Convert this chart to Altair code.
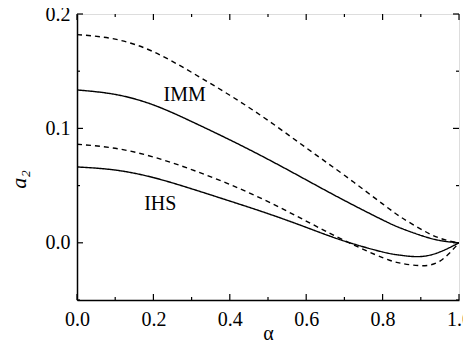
import altair as alt
import pandas as pd

alpha = [0.0, 0.1, 0.2, 0.3, 0.4, 0.5, 0.6, 0.7, 0.8, 0.85, 0.9, 0.95, 1.0]
imm_solid = [0.1336, 0.1297, 0.1205, 0.1060, 0.090, 0.073, 0.055, 0.037, 0.020, 0.0125, 0.0065, 0.002, 0.0]
imm_dashed = [0.182, 0.178, 0.167, 0.149, 0.129, 0.107, 0.083, 0.059, 0.034, 0.022, 0.012, 0.004, 0.0]
ihs_solid = [0.0663, 0.0636, 0.0570, 0.0472, 0.0365, 0.0255, 0.0135, 0.0015, -0.008, -0.011, -0.012, -0.008, 0.0]
ihs_dashed = [0.0862, 0.0826, 0.075, 0.064, 0.051, 0.036, 0.019, 0.002, -0.013, -0.018, -0.020, -0.016, 0.0]

label_text = ["IMM", "IHS"]
label_x = [0.282, 0.218]
label_y = [0.129, 0.034]

x_major = [0.0, 0.2, 0.4, 0.6, 0.8, 1.0]
x_minor = [0.1, 0.3, 0.5, 0.7, 0.9]
y_major = [0.0, 0.1, 0.2]
y_minor = [-0.05, 0.05, 0.15]

W, H = 382, 286
FONT = "Liberation Serif, Times New Roman, Times, serif"
MAJ, MIN = 6, 3

rows = []
for name, style, vals in [
    ("IMM solid", "solid", imm_solid),
    ("IMM dashed", "dashed", imm_dashed),
    ("IHS solid", "solid", ihs_solid),
    ("IHS dashed", "dashed", ihs_dashed),
]:
    for a, v in zip(alpha, vals):
        rows.append({"alpha": a, "a2": v, "series": name, "style": style})
df = pd.DataFrame(rows)
labels = pd.DataFrame({"text": label_text, "alpha": label_x, "a2": label_y})

xscale = alt.Scale(domain=[0, 1], nice=False, zero=False)
yscale = alt.Scale(domain=[-0.05, 0.2], nice=False, zero=False)

xaxis = alt.Axis(
    orient="bottom", values=x_major, format=".1f", ticks=False, tickSize=0,
    labelPadding=9, labelFont=FONT, labelFontSize=20, labelColor="black", labelFlush=False,
    domainColor="black", domainWidth=1.5, grid=False,
    title="α", titleFont=FONT, titleFontSize=20, titleFontWeight="normal",
    titleColor="black", titleY=23)
yaxis = alt.Axis(
    orient="left", values=y_major, format=".1f", ticks=False, tickSize=0,
    labelPadding=7, labelFont=FONT, labelFontSize=20, labelColor="black", labelFlush=False,
    domainColor="black", domainWidth=1.5, grid=False,
    title="a₂", titleFont=FONT, titleFontSize=22, titleFontStyle="italic",
    titleFontWeight="normal", titleColor="black", titleX=-47, titleY=165)

X = alt.X("alpha:Q", scale=xscale, axis=xaxis, title="α")
Y = alt.Y("a2:Q", scale=yscale, axis=yaxis, title="a₂")

lines = alt.Chart(df).mark_line(color="black", strokeWidth=1.4, clip=True, interpolate="natural").encode(
    x=X, y=Y,
    detail="series:N",
    strokeDash=alt.StrokeDash("style:N", scale=alt.Scale(domain=["solid", "dashed"], range=[[1, 0], [5, 4]]), legend=None),
)

text = alt.Chart(labels).mark_text(font=FONT, fontSize=20, color="black").encode(
    x=X, y=Y, text="text:N",
)


def xticks(vals, y0, y1):
    d = pd.DataFrame({"alpha": vals})
    return alt.Chart(d).mark_rule(color="black", strokeWidth=1.2).encode(
        x=X, y=alt.value(y0), y2=alt.value(y1),
    )


def yticks(vals, x0, x1):
    d = pd.DataFrame({"a2": vals})
    return alt.Chart(d).mark_rule(color="black", strokeWidth=1.2).encode(
        y=Y, x=alt.value(x0), x2=alt.value(x1),
    )


ticks = [
    xticks(x_major, H, H - MAJ), xticks(x_minor, H, H - MIN),
    xticks(x_major, 0, MAJ), xticks(x_minor, 0, MIN),
    yticks(y_major, 0, MAJ), yticks(y_minor, 0, MIN),
    yticks(y_major, W, W - MAJ), yticks(y_minor, W, W - MIN),
]

chart = alt.layer(lines, text, *ticks).properties(
    width=W, height=H,
    autosize=alt.AutoSizeParams(type="none"),
    padding={"left": 69, "top": 6, "right": 4, "bottom": 42},
).configure_view(stroke="black", strokeWidth=1.5).configure(background="white")

chart.save("out.html", embed_options={"renderer": "svg", "actions": False})
